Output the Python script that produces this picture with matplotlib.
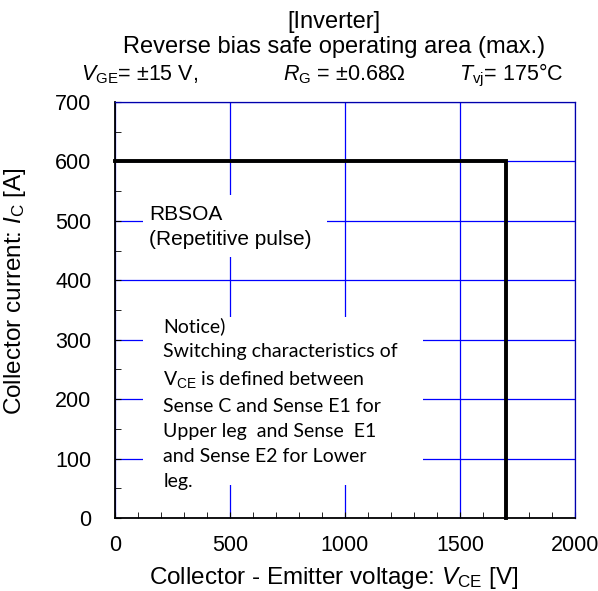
import matplotlib
import matplotlib.pyplot as plt
from matplotlib.patches import Rectangle
from matplotlib.ticker import MultipleLocator

matplotlib.use("Agg")

# RBSOA boundary
voltage = [0, 1700, 1700]
current = [600, 600, 0]

x_ticks = [0, 500, 1000, 1500, 2000]
y_ticks = [0, 100, 200, 300, 400, 500, 600, 700]

notice_lines = [
    "Notice)",
    "Switching characteristics of",
    "V$_{\\mathrm{CE}}$ is defined between",
    "Sense C and Sense E1 for",
    "Upper leg  and Sense  E1",
    "and Sense E2 for Lower",
    "leg.",
]


def main():
    plt.rcParams["font.family"] = "Liberation Sans"
    plt.rcParams["mathtext.fontset"] = "custom"
    plt.rcParams["mathtext.rm"] = "Liberation Sans"
    plt.rcParams["mathtext.it"] = "Liberation Sans:italic"

    fig = plt.figure(figsize=(5.98, 5.91), dpi=100)
    ax = fig.add_axes([0.1923, 0.1235, 0.7692, 0.7039])

    ax.set_xlim(0, 2000)
    ax.set_ylim(0, 700)
    ax.set_xticks(x_ticks)
    ax.set_yticks(y_ticks)
    ax.xaxis.set_minor_locator(MultipleLocator(100))
    ax.yaxis.set_minor_locator(MultipleLocator(50))
    ax.tick_params(which="both", direction="in", top=False, right=False,
                   labelsize=15.5, color="black", length=4)
    ax.tick_params(axis="x", pad=12)
    ax.tick_params(axis="y", pad=17)
    ax.set_axisbelow(True)
    ax.grid(True, which="major", color="#0000ff", linewidth=0.9)

    for side in ["left", "bottom"]:
        ax.spines[side].set_linewidth(1.3)
    for side in ["top", "right"]:
        ax.spines[side].set_color("#0000aa")
        ax.spines[side].set_linewidth(0.9)

    # white boxes behind annotations hide the grid
    ax.add_patch(Rectangle((122, 439), 800, 105, facecolor="white",
                           edgecolor="none", zorder=1))
    ax.add_patch(Rectangle((122, 55), 1217, 283, facecolor="white",
                           edgecolor="none", zorder=1))

    ax.plot(voltage, current, color="black", linewidth=2.8, zorder=3,
            solid_joinstyle="miter", clip_on=False)

    ax.text(148, 490, "RBSOA\n(Repetitive pulse)", fontsize=15,
            va="center", ha="left", linespacing=1.4, zorder=4)
    ax.text(210, 193, "\n".join(notice_lines), fontsize=14,
            family="Lato", va="center", ha="left", linespacing=1.57,
            zorder=4)

    ax.set_xlabel("Collector - Emitter voltage: $V_{\\mathrm{CE}}$ [V]",
                  fontsize=17.5)
    ax.xaxis.set_label_coords(0.475, -0.113)
    ax.set_ylabel("Collector current: $I_{\\mathrm{C}}$ [A]", fontsize=17.5)
    ax.yaxis.set_label_coords(-0.19, 0.546)

    fig.text(0.558, 0.962, "[Inverter]", fontsize=17, ha="center",
             va="center")
    fig.text(0.558, 0.920, "Reverse bias safe operating area (max.)",
             fontsize=17, ha="center", va="center")
    fig.text(0.136, 0.873, "$V_{\\mathrm{GE}}$= \u00b115 V,", fontsize=15.5,
             ha="left", va="center")
    fig.text(0.473, 0.873, "$R_{\\mathrm{G}}$ = \u00b10.68\u03a9",
             fontsize=15.5, ha="left", va="center")
    fig.text(0.768, 0.873, "$T_{\\mathrm{vj}}$= 175\u00b0C", fontsize=15.5,
             ha="left", va="center")

    fig.savefig("out.png", dpi=100)
    return 0


if __name__ == "__main__":
    main()
